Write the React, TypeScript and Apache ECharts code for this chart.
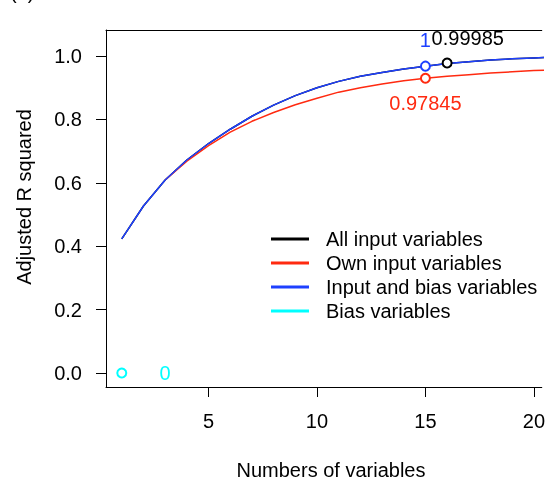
import React, { useEffect, useRef } from "react";
import * as echarts from "echarts";

const numVariables = [1, 2, 3, 4, 5, 6, 7, 8, 9, 10, 11, 12, 13, 14, 15, 16, 17, 18, 19, 20, 21];
const inputBiasR2 = [0.423, 0.527, 0.609, 0.672, 0.724, 0.769, 0.81, 0.845, 0.875, 0.9, 0.92, 0.936, 0.948, 0.959, 0.968, 0.976, 0.982, 0.987, 0.991, 0.994, 0.996];
const allInputR2 = [0.423, 0.527, 0.609, 0.672, 0.724, 0.769, 0.81, 0.845, 0.875, 0.9, 0.92, 0.936, 0.948, 0.959, 0.968, 0.976, 0.982, 0.987, 0.991, 0.994, 0.996];
const ownInputR2 = [null, null, 0.609, 0.668, 0.717, 0.76, 0.794, 0.822, 0.846, 0.867, 0.886, 0.9, 0.912, 0.922, 0.93, 0.936, 0.941, 0.946, 0.95, 0.954, 0.957];

const seriesNames = ["All input variables", "Own input variables", "Input and bias variables", "Bias variables"];

// highlighted points [x, y]
const pointAll = [16, 0.978];
const pointOwn = [15, 0.93];
const pointInputBias = [15, 0.968];
const pointBias = [1, 0];

// annotation texts and anchor positions
const annotationTexts = ["1", "0.99985", "0.97845", "0"];
const annotationX = [15, 16.95, 15, 3];
const annotationY = [1.05, 1.056, 0.852, 0];

const xTicks = [5, 10, 15, 20];
const yTicks = [0, 0.2, 0.4, 0.6, 0.8, 1.0];

const BLACK = "#000000";
const RED = "#ff2a10";
const BLUE = "#1e40ff";
const CYAN = "#00ffff";
const annotationColors = [BLUE, BLACK, RED, CYAN];
const FONT = "'Liberation Sans', Arial, sans-serif";
const FS = 20;

export default function App() {
  const ref = useRef<HTMLDivElement>(null);
  useEffect(() => {
    if (!ref.current) return;
    const chart = echarts.init(ref.current, null, { renderer: "svg" });
    const xMin = 1 - 16 / 22;
    const xMax = 1 + (548 - 122) / 22;
    const zipLine = (ys: (number | null)[]) => numVariables.map((x, i) => [x, ys[i]]);
    const markerSeries = (name: string, p: number[], color: string) => ({
      name,
      type: "scatter",
      data: [p],
      symbol: "emptyCircle",
      symbolSize: 9,
      itemStyle: { color, borderColor: color, borderWidth: 1.2, opacity: 1 },
      z: 5,
    });
    chart.setOption({
      animation: false,
      textStyle: { fontFamily: FONT },
      grid: { left: 106, right: 0, top: 30, bottom: 95, containLabel: false },
      legend: {
        orient: "vertical",
        left: 266,
        top: 224,
        icon: "rect",
        itemWidth: 38,
        itemHeight: 3,
        itemGap: 4,
        itemStyle: { borderWidth: 0 },
        data: seriesNames,
        textStyle: { fontSize: FS, color: "#000", fontFamily: FONT, padding: [0, 0, 0, 12] },
        selectedMode: false,
      },
      xAxis: [
        {
          type: "value",
          min: xMin,
          max: xMax,
          splitLine: { show: false },
          axisLine: { show: true, onZero: false, lineStyle: { color: "#000", width: 1 } },
          axisTick: { show: true, length: 10, customValues: xTicks, lineStyle: { color: "#000" } },
          axisLabel: { customValues: xTicks, fontSize: FS, color: "#000", margin: 24, fontFamily: FONT },
        },
        {
          type: "value",
          position: "top",
          min: xMin,
          max: xMax,
          splitLine: { show: false },
          axisLine: { show: true, onZero: false, lineStyle: { color: "#000", width: 1 } },
          axisTick: { show: false },
          axisLabel: { show: false },
        },
      ],
      yAxis: {
        type: "value",
        min: -0.044,
        max: 1.082,
        splitLine: { show: false },
        axisLine: { show: true, onZero: false, lineStyle: { color: "#000", width: 1 } },
        axisTick: { show: true, length: 10, customValues: yTicks, lineStyle: { color: "#000" } },
        axisLabel: {
          customValues: yTicks,
          fontSize: FS,
          color: "#000",
          margin: 24,
          fontFamily: FONT,
          formatter: (v: number) => v.toFixed(1),
        },
      },
      graphic: [
        {
          type: "text",
          x: 24,
          y: 197,
          rotation: Math.PI / 2,
          style: { text: "Adjusted R squared", fontSize: FS, fontFamily: FONT, fill: "#000", align: "center", verticalAlign: "middle" },
        },
        {
          type: "text",
          x: 331,
          y: 470,
          style: { text: "Numbers of variables", fontSize: FS, fontFamily: FONT, fill: "#000", align: "center", verticalAlign: "middle" },
        },
        {
          type: "text",
          x: 10,
          y: -8,
          style: { text: "(a)", fontSize: FS, fontFamily: FONT, fill: "#000", align: "left", verticalAlign: "middle" },
        },
      ],
      series: [
        {
          name: seriesNames[0],
          type: "line",
          data: zipLine(allInputR2),
          showSymbol: false,
          lineStyle: { color: BLACK, width: 1.5 },
          itemStyle: { color: BLACK },
          z: 2,
        },
        {
          name: seriesNames[1],
          type: "line",
          data: zipLine(ownInputR2),
          showSymbol: false,
          lineStyle: { color: RED, width: 1.5 },
          itemStyle: { color: RED },
          z: 3,
        },
        {
          name: seriesNames[2],
          type: "line",
          data: zipLine(inputBiasR2),
          showSymbol: false,
          lineStyle: { color: BLUE, width: 1.5 },
          itemStyle: { color: BLUE },
          z: 4,
        },
        {
          name: seriesNames[3],
          type: "scatter",
          data: [pointBias],
          symbol: "emptyCircle",
          symbolSize: 9,
          itemStyle: { color: CYAN, borderColor: CYAN, borderWidth: 1.2, opacity: 1 },
          z: 5,
        },
        markerSeries("best-all", pointAll, BLACK),
        markerSeries("best-own", pointOwn, RED),
        markerSeries("best-inputbias", pointInputBias, BLUE),
        {
          name: "annotations",
          type: "scatter",
          symbolSize: 0,
          itemStyle: { opacity: 1 },
          z: 6,
          data: annotationTexts.map((t, i) => ({
            value: [annotationX[i], annotationY[i]],
            label: {
              show: true,
              position: "inside",
              formatter: t,
              fontSize: FS,
              fontFamily: FONT,
              color: annotationColors[i],
              opacity: 1,
            },
          })),
        },
      ],
    });
    return () => chart.dispose();
  }, []);
  return <div ref={ref} style={{ position: "fixed", left: 0, top: 0, width: 548, height: 482 }} />;
}
